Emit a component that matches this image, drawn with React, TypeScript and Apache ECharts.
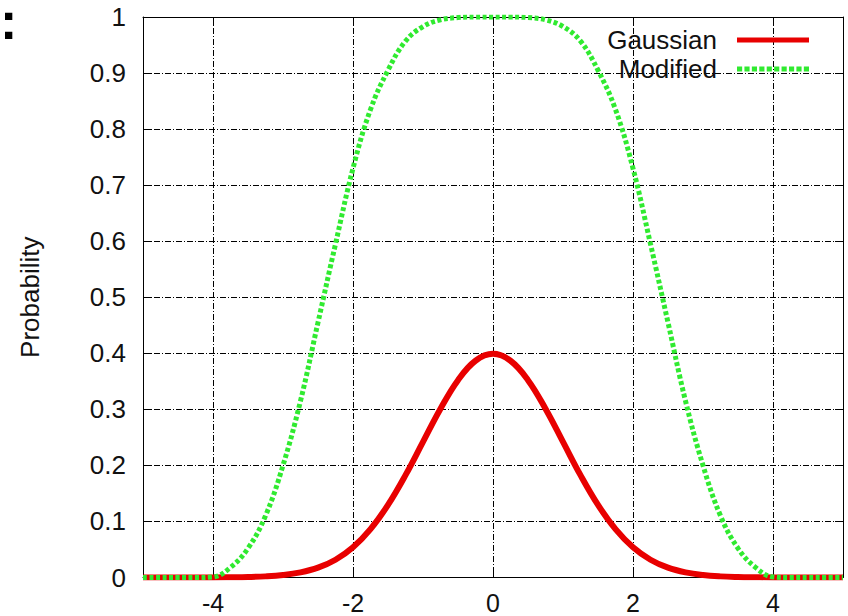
import React, { useEffect, useRef } from "react";
import * as echarts from "echarts";

const xValues = [
  -5, -4.75, -4.5, -4.25, -4, -3.75, -3.5, -3.25, -3, -2.75, -2.5, -2.25, -2, -1.75, -1.5, -1.25, -1, -0.75, -0.5, -0.25,
  0, 0.25, 0.5, 0.75, 1, 1.25, 1.5, 1.75, 2, 2.25, 2.5, 2.75, 3, 3.25, 3.5, 3.75, 4, 4.25, 4.5, 4.75, 5,
];

const gaussianValues = [
  0, 0, 0, 0.0001, 0.0001, 0.0004, 0.0009, 0.002, 0.0044, 0.0091, 0.0175, 0.0317, 0.054, 0.0863, 0.1295, 0.1826, 0.242,
  0.3011, 0.3521, 0.3867, 0.399, 0.3867, 0.3521, 0.3011, 0.242, 0.1826, 0.1295, 0.0863, 0.054, 0.0317, 0.0175, 0.0091,
  0.0044, 0.002, 0.0009, 0.0004, 0.0001, 0.0001, 0, 0, 0,
];

const modifiedValues = [
  0, 0, 0, 0, 0.001, 0.018, 0.052, 0.11, 0.2, 0.315, 0.455, 0.595, 0.73, 0.835, 0.905, 0.957, 0.983, 0.995, 0.999, 1,
  1, 1, 0.999, 0.995, 0.983, 0.957, 0.905, 0.835, 0.73, 0.595, 0.455, 0.315, 0.2, 0.11, 0.052, 0.018, 0.001, 0, 0, 0, 0,
];

const seriesNames = ["Gaussian", "Modified"];
const yAxisTitle = "Probability";

const FONT = "'Liberation Sans', Arial, Helvetica, sans-serif";
const INK = "#111";
const RED = "#e80000";
const GREEN = "#30ea30";

const solidIcon = "path://M0,0L72,0L72,5L0,5Z";
const dottedIcon =
  "path://M0,0h5v5h-5zM7.2,0h5v5h-5zM14.4,0h5v5h-5zM21.6,0h5v5h-5zM28.8,0h5v5h-5zM36,0h5v5h-5zM43.2,0h5v5h-5zM50.4,0h5v5h-5zM57.6,0h5v5h-5zM64.8,0h5v5h-5z";

export default function App() {
  const ref = useRef<HTMLDivElement>(null);

  useEffect(() => {
    if (!ref.current) return;
    const chart = echarts.init(ref.current, undefined, { renderer: "svg" });

    const toPairs = (ys: number[]) => xValues.map((x, i) => [x, ys[i]]);

    const axisLine = { show: true, onZero: false, lineStyle: { color: "#000", width: 1 } };
    const tick = { show: true, inside: true, length: 8, lineStyle: { color: "#000", width: 1 } };
    const split = { show: true, lineStyle: { color: "#000", width: 1, type: [6, 2, 1, 2] as any } };

    chart.setOption({
      animation: false,
      backgroundColor: "#fff",
      grid: { left: 143, right: 5, top: 17, bottom: 38.5, containLabel: false, outerBoundsMode: "none" },
      legend: {
        orient: "vertical",
        align: "right",
        right: 34,
        top: 22,
        itemWidth: 72,
        itemHeight: 14,
        itemGap: 3,
        textStyle: { fontSize: 26, fontFamily: FONT, color: INK, padding: [0, 15, 0, 0] },
        data: [
          { name: seriesNames[0], icon: solidIcon, itemStyle: { color: RED } },
          { name: seriesNames[1], icon: dottedIcon, itemStyle: { color: GREEN } },
        ],
      },
      xAxis: [
        {
          type: "value",
          min: -5,
          max: 5,
          splitNumber: 5,
          position: "bottom",
          axisLine,
          axisTick: tick,
          splitLine: split,
          axisLabel: {
            show: true,
            showMinLabel: false,
            showMaxLabel: false,
            margin: 16,
            lineHeight: 18,
            fontSize: 25,
            fontFamily: FONT,
            color: INK,
          },
        },
        {
          type: "value",
          min: -5,
          max: 5,
          splitNumber: 5,
          position: "top",
          axisLine,
          axisTick: tick,
          splitLine: { show: false },
          axisLabel: { show: false },
        },
      ],
      yAxis: [
        {
          type: "value",
          min: 0,
          max: 1,
          interval: 0.1,
          position: "left",
          name: yAxisTitle,
          nameLocation: "middle",
          nameRotate: 90,
          nameGap: 100,
          nameTextStyle: { fontSize: 26, fontFamily: FONT, color: INK },
          axisLine,
          axisTick: tick,
          splitLine: split,
          axisLabel: {
            show: true,
            margin: 17,
            fontSize: 26,
            fontFamily: FONT,
            color: INK,
            formatter: (v: number) => String(Math.round(v * 10) / 10),
          },
        },
        {
          type: "value",
          min: 0,
          max: 1,
          interval: 0.1,
          position: "right",
          axisLine,
          axisTick: tick,
          splitLine: { show: false },
          axisLabel: { show: false },
        },
      ],
      graphic: [
        {
          type: "text",
          left: 0,
          top: -5,
          style: { text: ":", fontSize: 52, lineHeight: 34, fontWeight: "bold", fontFamily: FONT, fill: "#000" },
        },
      ],
      series: [
        {
          name: seriesNames[0],
          type: "line",
          xAxisIndex: 0,
          yAxisIndex: 0,
          data: toPairs(gaussianValues),
          smooth: 0.4,
          symbol: "none",
          color: RED,
          lineStyle: { color: RED, width: 6 },
          z: 3,
        },
        {
          name: seriesNames[1],
          type: "line",
          xAxisIndex: 0,
          yAxisIndex: 0,
          data: toPairs(modifiedValues),
          smooth: 0.4,
          symbol: "none",
          color: GREEN,
          lineStyle: { color: GREEN, width: 5, type: [4, 2.5] as any },
          z: 4,
        },
      ],
    });

    return () => chart.dispose();
  }, []);

  return <div ref={ref} style={{ width: 848, height: 616, position: "absolute", left: 0, top: 0 }} />;
}
